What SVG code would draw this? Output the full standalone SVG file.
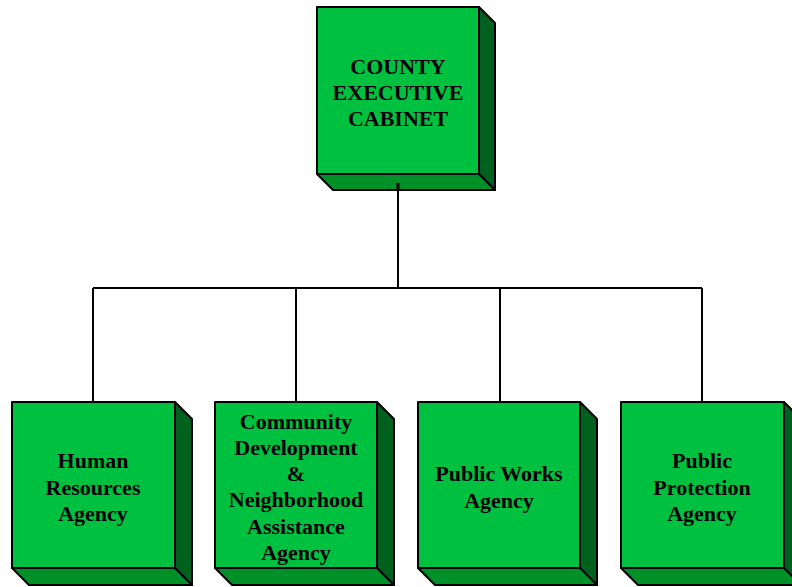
<svg xmlns="http://www.w3.org/2000/svg" width="792" height="587" viewBox="0 0 792 587">
<style>
.front{fill:#00C040;stroke:#000;stroke-width:2;stroke-linejoin:round}
.side{fill:#00601E;stroke:#000;stroke-width:2;stroke-linejoin:round}
.bot{fill:#009028;stroke:#000;stroke-width:2;stroke-linejoin:round}
.lbl{font-family:"Liberation Serif","Times New Roman",serif;font-weight:bold;font-size:22px;fill:#000;text-anchor:middle}
.conn{fill:none;stroke:#000;stroke-width:2}
</style>
<rect width="792" height="587" fill="#fff"/>
<g id="connectors">
<path class="conn" d="M398 183V288M93 288H702M93 288V402M296 288V402M500 288V402M702 288V402"/>
</g>
<g id="county-executive-cabinet">
<polygon class="side" points="479,7 495,23 495,190 479,174"/>
<polygon class="bot" points="317,174 479,174 495,190 333,190"/>
<rect class="front" x="317" y="7" width="162" height="167"/>
<line class="conn" x1="398" y1="183" x2="398" y2="190" style="stroke-width:3"/>
<text class="lbl" x="398" y="74">COUNTY</text>
<text class="lbl" x="398" y="100">EXECUTIVE</text>
<text class="lbl" x="398" y="126">CABINET</text>
</g>
<g id="human-resources">
<polygon class="side" points="175,402 192,419 192,585 175,568"/>
<polygon class="bot" points="12,568 175,568 192,585 29,585"/>
<rect class="front" x="12" y="402" width="163" height="166"/>
<text class="lbl" x="93" y="468">Human</text>
<text class="lbl" x="93" y="495">Resources</text>
<text class="lbl" x="93" y="521">Agency</text>
</g>
<g id="community-development">
<polygon class="side" points="377,402 394,419 394,585 377,568"/>
<polygon class="bot" points="215,568 377,568 394,585 232,585"/>
<rect class="front" x="215" y="402" width="162" height="166"/>
<text class="lbl" x="296" y="429">Community</text>
<text class="lbl" x="296" y="455">Development</text>
<text class="lbl" x="296" y="481">&amp;</text>
<text class="lbl" x="296" y="507">Neighborhood</text>
<text class="lbl" x="296" y="534">Assistance</text>
<text class="lbl" x="296" y="560">Agency</text>
</g>
<g id="public-works">
<polygon class="side" points="580,402 597,419 597,585 580,568"/>
<polygon class="bot" points="418,568 580,568 597,585 435,585"/>
<rect class="front" x="418" y="402" width="162" height="166"/>
<text class="lbl" x="499" y="481">Public Works</text>
<text class="lbl" x="499" y="508">Agency</text>
</g>
<g id="public-protection">
<polygon class="side" points="784,402 801,419 801,585 784,568"/>
<polygon class="bot" points="621,568 784,568 801,585 638,585"/>
<rect class="front" x="621" y="402" width="163" height="166"/>
<text class="lbl" x="702" y="468">Public</text>
<text class="lbl" x="702" y="495">Protection</text>
<text class="lbl" x="702" y="521">Agency</text>
</g>
</svg>
